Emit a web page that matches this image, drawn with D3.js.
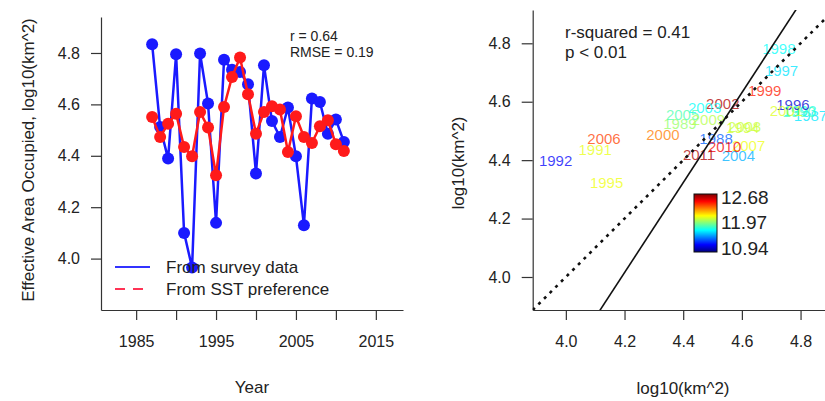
<!DOCTYPE html>
<html>
<head>
<meta charset="utf-8">
<script src="https://cdn.jsdelivr.net/npm/d3@7"></script>
<style>
  body { margin: 0; background: #fff; }
  svg { display: block; font-family: "Liberation Sans", Arial, sans-serif; }
  .axis path, .axis line { stroke: #333; stroke-width: 1.2; }
  .axis text { fill: #222; font-size: 16px; }
</style>
</head>
<body>
<div class="chart"></div>
<script>
const width = 825;
const height = 401;

// values
const years = [1987, 1988, 1989, 1990, 1991, 1992, 1993, 1994, 1995, 1996, 1997, 1998, 1999,
  2000, 2001, 2002, 2003, 2004, 2005, 2006, 2007, 2008, 2009, 2010, 2011];
const surveyVals = [4.834, 4.512, 4.389, 4.795, 4.100, 3.965, 4.798, 4.603, 4.139, 4.774, 4.735, 4.726, 4.678,
  4.331, 4.752, 4.535, 4.473, 4.588, 4.398, 4.130, 4.623, 4.609, 4.486, 4.541, 4.454];
const sstVals = [4.551, 4.473, 4.525, 4.564, 4.434, 4.398, 4.570, 4.510, 4.324, 4.590, 4.707, 4.782, 4.639,
  4.486, 4.570, 4.593, 4.580, 4.415, 4.554, 4.473, 4.450, 4.515, 4.538, 4.445, 4.419];
// colour variable of the right panel (estimated from label colours)
const colourVals = [11.55, 11.32, 11.85, 11.72, 11.99, 11.15, 11.64, 11.95, 12.00, 11.08, 11.55, 11.60, 12.42,
  12.25, 11.97, 12.60, 11.60, 11.46, 11.73, 12.35, 12.00, 11.93, 11.90, 12.48, 12.60];
const colourTicks = [12.68, 11.97, 10.94];

const yearTicks = [1985, 1990, 1995, 2000, 2005, 2010, 2015];
const yearLabels = [1985, 1995, 2005, 2015];
const logTicks = [4.0, 4.2, 4.4, 4.6, 4.8];

const fitSlope = 1.54;
const fitIntercept = -2.453;

const jet = ["#00007F", "#0000FF", "#007FFF", "#00FFFF", "#7FFF7F", "#FFFF00", "#FF7F00", "#FF0000", "#7F0000"];

let svg = d3.select(".chart").append("svg").attr("width", width).attr("height", height);

// ---------- left panel ----------
let xL = d3.scaleLinear().domain([1980.6, 2018.4]).range([101, 403]);
let yL = d3.scaleLinear().domain([3.8, 4.94]).range([310, 17]);

svg.append("g")
  .attr("class", "axis")
  .attr("transform", "translate(0,310)")
  .call(d3.axisBottom(xL).tickValues(yearTicks).tickSize(10).tickSizeOuter(0).tickPadding(16)
    .tickFormat((d) => (yearLabels.includes(d) ? d : "")));
svg.append("g")
  .attr("class", "axis")
  .attr("transform", "translate(101,0)")
  .call(d3.axisLeft(yL).tickValues(logTicks).tickSize(10).tickSizeOuter(0).tickPadding(11)
    .tickFormat(d3.format(".1f")));

let survey = years.map((y, i) => ({ year: y, v: surveyVals[i] }));
let sst = years.map((y, i) => ({ year: y, v: sstVals[i] }));
let lineL = d3.line().x((d) => xL(d.year)).y((d) => yL(d.v));

[[survey, "#1a1aff"], [sst, "#ff1a1a"]].forEach(([data, col]) => {
  svg.append("path").datum(data)
    .attr("d", lineL).attr("fill", "none").attr("stroke", col).attr("stroke-width", 2.5);
  svg.append("g").selectAll("circle").data(data).enter().append("circle")
    .attr("cx", (d) => xL(d.year)).attr("cy", (d) => yL(d.v))
    .attr("r", 6).attr("fill", col);
});

svg.append("text").text("r = 0.64").attr("x", 290).attr("y", 36).attr("dy", "0.35em")
  .attr("font-size", 14).attr("fill", "#222");
svg.append("text").text("RMSE = 0.19").attr("x", 290).attr("y", 52).attr("dy", "0.35em")
  .attr("font-size", 14).attr("fill", "#222");

// legend
svg.append("line").attr("x1", 115).attr("x2", 150).attr("y1", 267).attr("y2", 267)
  .attr("stroke", "#3333ff").attr("stroke-width", 2);
svg.append("line").attr("x1", 115).attr("x2", 150).attr("y1", 289).attr("y2", 289)
  .attr("stroke", "#ff3355").attr("stroke-width", 2).attr("stroke-dasharray", "10,8");
svg.append("text").text("From survey data").attr("x", 166).attr("y", 267).attr("dy", "0.35em")
  .attr("font-size", 17).attr("fill", "#222");
svg.append("text").text("From SST preference").attr("x", 166).attr("y", 289).attr("dy", "0.35em")
  .attr("font-size", 17).attr("fill", "#222");

svg.append("text").text("Year").attr("text-anchor", "middle")
  .attr("x", 252).attr("y", 387).attr("dy", "0.35em").attr("font-size", 17).attr("fill", "#222");
svg.append("text").text("Effective Area Occupied, log10(km^2)").attr("text-anchor", "middle")
  .attr("transform", "rotate(-90)").attr("x", -160).attr("y", 28).attr("dy", "0.35em")
  .attr("font-size", 17).attr("fill", "#222");

// ---------- right panel ----------
let xR = d3.scaleLinear().domain([3.887, 4.914]).range([532.7, 834]);
let yR = d3.scaleLinear().domain([3.887, 4.914]).range([310, 10]);

svg.append("g")
  .attr("class", "axis")
  .attr("transform", "translate(0,310)")
  .call(d3.axisBottom(xR).tickValues(logTicks).tickSize(10).tickSizeOuter(0).tickPadding(16)
    .tickFormat(d3.format(".1f")));
svg.append("g")
  .attr("class", "axis")
  .attr("transform", "translate(532.7,0)")
  .call(d3.axisLeft(yR).tickValues(logTicks).tickSize(11).tickSizeOuter(0).tickPadding(11)
    .tickFormat(d3.format(".1f")));

svg.append("defs").append("clipPath").attr("id", "clipR")
  .append("rect").attr("x", 532.7).attr("y", 10).attr("width", 302).attr("height", 300);

let colour = d3.scaleLinear()
  .domain(jet.map((c, i) => 10.94 + (i * (12.68 - 10.94)) / (jet.length - 1)))
  .range(jet);

let pts = years.map((y, i) => ({ year: y, x: surveyVals[i], y: sstVals[i], c: colourVals[i] }));
svg.append("g").selectAll("text").data(pts).enter().append("text")
  .text((d) => d.year)
  .attr("x", (d) => xR(d.x)).attr("y", (d) => yR(d.y)).attr("dy", "0.35em")
  .attr("text-anchor", "middle").attr("font-size", 15)
  .attr("fill", (d) => colour(d.c)).attr("fill-opacity", 0.75);

let gLines = svg.append("g").attr("clip-path", "url(#clipR)");
let dom = xR.domain();
gLines.append("line")
  .attr("x1", xR(dom[0])).attr("y1", yR(dom[0])).attr("x2", xR(dom[1])).attr("y2", yR(dom[1]))
  .attr("stroke", "#111").attr("stroke-width", 2.6).attr("stroke-dasharray", "3,5");
gLines.append("line")
  .attr("x1", xR(3.9)).attr("y1", yR(fitIntercept + fitSlope * 3.9))
  .attr("x2", xR(4.95)).attr("y2", yR(fitIntercept + fitSlope * 4.95))
  .attr("stroke", "#111").attr("stroke-width", 1.6);

svg.append("text").text("r-squared = 0.41").attr("x", 565).attr("y", 32).attr("dy", "0.35em")
  .attr("font-size", 17).attr("fill", "#222");
svg.append("text").text("p < 0.01").attr("x", 565).attr("y", 52).attr("dy", "0.35em")
  .attr("font-size", 17).attr("fill", "#222");

// colour bar
let grad = svg.select("defs").append("linearGradient").attr("id", "jetGrad")
  .attr("x1", 0).attr("x2", 0).attr("y1", 1).attr("y2", 0);
grad.selectAll("stop").data(jet).enter().append("stop")
  .attr("offset", (d, i) => i / (jet.length - 1)).attr("stop-color", (d) => d);
svg.append("rect").attr("x", 694).attr("y", 194).attr("width", 23).attr("height", 58)
  .attr("fill", "url(#jetGrad)").attr("stroke", "#111").attr("stroke-width", 1);
let cbY = d3.scalePoint().domain(colourTicks).range([197, 248]);
svg.append("g").selectAll("text").data(colourTicks).enter().append("text")
  .text((d) => d3.format(".2f")(d))
  .attr("x", 721).attr("y", (d) => cbY(d)).attr("dy", "0.35em")
  .attr("font-size", 19).attr("fill", "#222");

svg.append("text").text("log10(km^2)").attr("text-anchor", "middle")
  .attr("x", 683).attr("y", 388).attr("dy", "0.35em").attr("font-size", 17).attr("fill", "#222");
svg.append("text").text("log10(km^2)").attr("text-anchor", "middle")
  .attr("transform", "rotate(-90)").attr("x", -163).attr("y", 458).attr("dy", "0.35em")
  .attr("font-size", 17).attr("fill", "#222");
</script>
</body>
</html>
